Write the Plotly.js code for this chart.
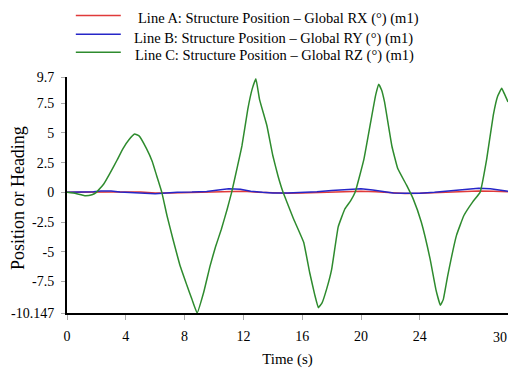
<!DOCTYPE html>
<html>
<head>
<meta charset="utf-8">
<script src="https://cdn.plot.ly/plotly-3.0.1.min.js"></script>
<style>
  html, body { margin: 0; padding: 0; background: #fff; }
  #chart { width: 508px; height: 368px; }
</style>
</head>
<body>
<div id="chart"></div>
<script>
// Series names
const seriesNames = [
  "Line A: Structure Position \u2013 Global RX (\u00b0) (m1)",
  "Line B: Structure Position \u2013 Global RY (\u00b0) (m1)",
  "Line C: Structure Position \u2013 Global RZ (\u00b0) (m1)"
];
const seriesColors = ["#e03a3a", "#2626c8", "#2e8b2e"];

// Line A – RX (small roll)
const timeA = [0, 2, 3, 5, 6, 7, 9, 11, 12, 13, 15, 16, 18, 20, 21, 22, 23, 24, 25, 26, 27, 28, 29, 30];
const rxA   = [0, -0.02, 0.03, 0.02, -0.05, -0.05, 0.0, 0.08, 0.1, 0.0, -0.08, -0.05, 0.02, 0.1, 0.05, -0.05, -0.1, -0.08, -0.02, 0.02, 0.08, 0.12, 0.1, 0.05];

// Line B – RY (small pitch)
const timeB = [0, 1.0, 1.8, 2.3, 3.0, 3.6, 4.5, 5.3, 6.0, 6.6, 7.5, 8.5, 9.5, 10.3, 11.0, 11.8, 12.5, 13.3, 14.0, 15.0, 16.0, 17.0, 18.0, 19.0, 20.0, 20.8, 21.5, 22.2, 23.0, 24.0, 25.0, 26.0, 27.0, 28.0, 28.8, 29.5, 30];
const ryB   = [0, 0, 0.05, 0.12, 0.12, 0.02, 0, -0.08, -0.12, -0.05, 0, 0.02, 0.08, 0.2, 0.3, 0.25, 0.1, 0, -0.05, -0.05, -0.02, 0.05, 0.15, 0.25, 0.3, 0.2, 0.05, -0.05, -0.08, -0.08, 0, 0.1, 0.25, 0.35, 0.3, 0.15, 0.1];

// Line C – RZ (heading oscillation)
const timeC = [0, 0.6, 1.2, 1.7, 2.0, 2.5, 2.9, 3.4, 3.8, 4.2, 4.6, 4.9, 5.4, 5.8, 6.1, 6.45, 6.8, 7.2, 7.7, 8.15, 8.5, 8.85, 9.3, 9.73, 10.1, 10.5, 10.9, 11.2, 11.6, 11.9, 12.3, 12.6, 12.85, 13.1, 13.6, 14.0, 14.35, 14.7, 15.05, 15.4, 16.1, 16.5, 16.85, 17.1, 17.35, 17.67, 18.0, 18.45, 18.9, 19.3, 19.6, 20.2, 20.7, 21.0, 21.2, 21.4, 21.6, 22.1, 22.5, 23.1, 23.55, 24.1, 24.7, 25.1, 25.4, 25.6, 25.9, 26.5, 27.0, 27.6, 28.1, 28.55, 29.0, 29.3, 29.57, 29.75, 30.0];
const rzC   = [0, -0.1, -0.28, -0.2, 0, 0.7, 1.55, 2.7, 3.66, 4.4, 4.9, 4.75, 3.7, 2.6, 1.4, 0, -1.95, -3.9, -6.2, -7.8, -9.0, -10.147, -8.4, -6.2, -4.6, -3.1, -1.4, 0, 2.2, 3.9, 7.0, 8.7, 9.55, 7.8, 5.6, 3.1, 1.4, 0, -1.1, -2.2, -4.2, -6.7, -8.6, -9.7, -9.3, -8.1, -6.5, -2.9, -1.4, -0.7, 0, 2.8, 6.2, 8.2, 9.1, 8.6, 7.6, 3.9, 2.0, 0.6, -0.55, -2.5, -5.6, -8.2, -9.5, -9.0, -7.0, -3.6, -1.95, -0.8, 0, 2.8, 6.5, 8.1, 8.75, 8.3, 7.6];

// Axis ticks (the last time label sits flush against the right edge)
const xTicks = [0, 4, 8, 12, 16, 20, 24, 30];
const xTickText = ["0", "4", "8", "12", "16", "20", "24", ""];
const xEndLabel = "30";
const yTicks = [9.7, 7.5, 5, 2.5, 0, -2.5, -5, -7.5, -10.147];
const yTickText = ["9.7", "7.5", "5", "2.5", "0", "-2.5", "-5", "-7.5", "-10.147"];

const serif = "Liberation Serif, Times New Roman, serif";

const traces = [
  { x: timeA, y: rxA, name: seriesNames[0], mode: "lines", line: { color: seriesColors[0], width: 1.5 } },
  { x: timeB, y: ryB, name: seriesNames[1], mode: "lines", line: { color: seriesColors[1], width: 1.5 } },
  { x: timeC, y: rzC, name: seriesNames[2], mode: "lines", line: { color: seriesColors[2], width: 1.5, shape: "spline", smoothing: 0.3 } }
];

// Key above the plot: a short line swatch followed by the series name
const keySwatchX = [0.02, 0.122];
const keySwatchY = [1.2606, 1.1809, 1.1047];
const keyTextX = [0.158, 0.149, 0.151];
const keyTextY = [1.25, 1.165, 1.089];

const shapes = seriesNames.map((_, i) => ({
  type: "line", xref: "paper", yref: "paper",
  x0: keySwatchX[0], x1: keySwatchX[1], y0: keySwatchY[i], y1: keySwatchY[i],
  line: { color: seriesColors[i], width: 1.5 }
}));

const annotations = seriesNames.map((name, i) => ({
  text: name, xref: "paper", yref: "paper",
  x: keyTextX[i], y: keyTextY[i], xanchor: "left", yanchor: "middle",
  showarrow: false, borderpad: 0,
  font: { family: serif, size: 14.5, color: "#000" }
}));

// Vertical axis caption
annotations.push({
  text: "Position or Heading", xref: "paper", yref: "paper",
  x: -0.111, y: 0.487, xanchor: "center", yanchor: "middle",
  textangle: -90, showarrow: false, borderpad: 0,
  font: { family: serif, size: 18, color: "#000" }
});

// Right-most time label, right-aligned to its tick
annotations.push({
  text: xEndLabel, xref: "x", yref: "paper",
  x: xTicks[xTicks.length - 1], y: -0.103, xanchor: "right", yanchor: "middle",
  showarrow: false, borderpad: 0,
  font: { family: serif, size: 14, color: "#000" }
});

const layout = {
  width: 508,
  height: 368,
  margin: { l: 67, r: 0, t: 77, b: 55 },
  paper_bgcolor: "#ffffff",
  plot_bgcolor: "#ffffff",
  font: { family: serif, size: 14, color: "#000" },
  showlegend: false,
  shapes: shapes,
  annotations: annotations,
  xaxis: {
    range: [0, 30],
    tickmode: "array",
    tickvals: xTicks,
    ticktext: xTickText,
    ticks: "outside",
    ticklen: 5,
    tickcolor: "#aaaaaa",
    tickwidth: 1,
    ticklabelstandoff: 4,
    showgrid: false,
    zeroline: false,
    showline: true,
    linecolor: "#000",
    linewidth: 2,
    tickfont: { family: serif, size: 14, color: "#000" },
    title: { text: "Time (s)", font: { family: serif, size: 15, color: "#000" }, standoff: 14 }
  },
  yaxis: {
    range: [-10.147, 9.7],
    tickmode: "array",
    tickvals: yTicks,
    ticktext: yTickText,
    ticks: "outside",
    ticklen: 4,
    tickcolor: "#aaaaaa",
    tickwidth: 1,
    ticklabelstandoff: 4,
    showgrid: false,
    zeroline: false,
    showline: true,
    linecolor: "#000",
    linewidth: 2,
    tickfont: { family: serif, size: 14, color: "#000" }
  }
};

Plotly.newPlot("chart", traces, layout, { displayModeBar: false, staticPlot: true });
</script>
</body>
</html>
